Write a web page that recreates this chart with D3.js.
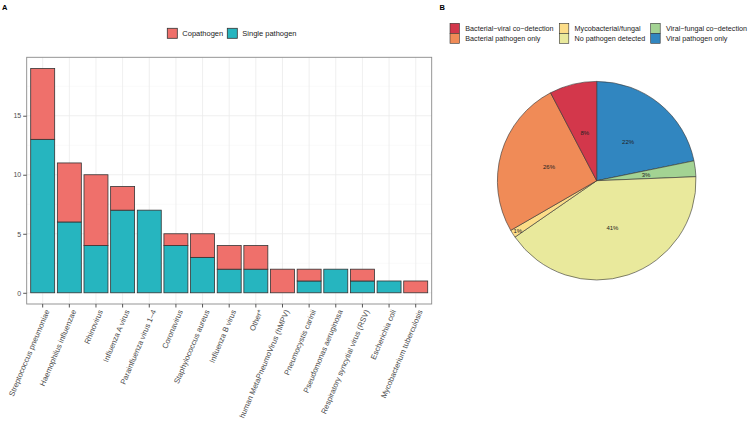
<!DOCTYPE html>
<html>
<head>
<meta charset="utf-8">
<script src="https://cdn.jsdelivr.net/npm/d3@7"></script>
<style>
  body { margin: 0; background: #fff; }
  svg { font-family: "Liberation Sans", Arial, sans-serif; }
</style>
</head>
<body>
<svg id="chart" width="749" height="421"></svg>
<script>
// panel A data
const pathogens = [
  "Streptococcus pneumoniae", "Haemophilus influenzae", "Rhinovirus", "Influenza A virus",
  "Parainfluenza virus 1\u20134", "Coronavirus", "Staphylococcus aureus", "Influenza B virus",
  "Other*", "human MetaPneumoVirus (hMPV)", "Pneumocystis carinii", "Pseudomonas aeruginosa",
  "Respiratory syncytial virus (RSV)", "Escherichia coli", "Mycobacterium tuberculosis"
];
const single = [13, 6, 4, 7, 7, 4, 3, 2, 2, 0, 1, 2, 1, 1, 0];
const copathogen = [6, 5, 6, 2, 0, 1, 2, 2, 2, 2, 1, 0, 1, 0, 1];
const yTicks = [0, 5, 10, 15];

// panel B data (counts, drawn clockwise from 12 o'clock)
const groups = ["Viral pathogen only", "Viral\u2212fungal co\u2212detection", "No pathogen detected",
  "Mycobacterial/fungal", "Bacterial pathogen only", "Bacterial\u2212viral co\u2212detection"];
const groupCounts = [17, 2, 32, 1, 20, 6];
const legendOrder = ["Bacterial\u2212viral co\u2212detection", "Bacterial pathogen only",
  "Mycobacterial/fungal", "No pathogen detected",
  "Viral\u2212fungal co\u2212detection", "Viral pathogen only"];

const svg = d3.select('#chart');

// ---------- panel A ----------
const a = { left: 26.7, right: 431.7, top: 57.3, bottom: 304 };
const cols = { co: "#EF706B", single: "#26B5BF" };

const x = d3.scaleBand().domain(pathogens).range([a.left, a.right])
  .paddingInner(0.1).paddingOuter(0.15);
const y = d3.scaleLinear().domain([-0.95, 19.95]).range([a.bottom, a.top]);

const gA = svg.append('g');
// grid
[2.5, 7.5, 12.5, 17.5].forEach(v => {
  gA.append('line').attr('x1', a.left).attr('x2', a.right).attr('y1', y(v)).attr('y2', y(v))
    .attr('stroke', '#F2F2F2').attr('stroke-width', 0.5);
});
yTicks.forEach(v => {
  gA.append('line').attr('x1', a.left).attr('x2', a.right).attr('y1', y(v)).attr('y2', y(v))
    .attr('stroke', '#EBEBEB').attr('stroke-width', 0.8);
});
pathogens.forEach(p => {
  const cx = x(p) + x.bandwidth() / 2;
  gA.append('line').attr('x1', cx).attr('x2', cx).attr('y1', a.top).attr('y2', a.bottom)
    .attr('stroke', '#EBEBEB').attr('stroke-width', 0.8);
});

const barData = pathogens.map((p, i) => ({ name: p, single: single[i], co: copathogen[i] }));
const stack = d3.stack().keys(["single", "co"])(barData);
gA.selectAll('g.layer').data(stack).enter().append('g')
  .attr('fill', d => cols[d.key])
  .selectAll('rect').data(d => d.filter(s => s[1] > s[0])).enter().append('rect')
  .attr('x', d => x(d.data.name))
  .attr('width', x.bandwidth())
  .attr('y', d => y(d[1]))
  .attr('height', d => y(d[0]) - y(d[1]))
  .attr('stroke', '#333').attr('stroke-width', 0.8);

// panel border
gA.append('rect').attr('x', a.left).attr('y', a.top)
  .attr('width', a.right - a.left).attr('height', a.bottom - a.top)
  .attr('fill', 'none').attr('stroke', '#8a8a8a').attr('stroke-width', 0.9);

// y axis
const yAxis = gA.append('g').attr('transform', `translate(${a.left},0)`)
  .call(d3.axisLeft(y).tickValues(yTicks).tickSize(3.5).tickPadding(2));
yAxis.select('.domain').remove();
yAxis.selectAll('line').attr('stroke', '#555');
yAxis.selectAll('text').attr('fill', '#4D4D4D').style('font-size', '7px');

// x axis
const xAxis = gA.append('g').attr('transform', `translate(0,${a.bottom})`)
  .call(d3.axisBottom(x).tickSize(3.5));
xAxis.select('.domain').remove();
xAxis.selectAll('line').attr('stroke', '#555');
xAxis.selectAll('text')
  .attr('fill', '#4D4D4D').style('font-size', '7.7px')
  .attr('text-anchor', 'end')
  .attr('x', 0).attr('y', 0).attr('dy', '0.72em')
  .attr('transform', 'translate(2,5) rotate(-67)');

// legend A
const legA = [{ k: "co", t: "Copathogen", x: 167.3 }, { k: "single", t: "Single pathogen", x: 227.3 }];
legA.forEach(l => {
  gA.append('rect').attr('x', l.x).attr('y', 28.3).attr('width', 10).attr('height', 10)
    .attr('fill', cols[l.k]).attr('stroke', '#333').attr('stroke-width', 0.8);
  gA.append('text').attr('x', l.x + 15).attr('y', 36).text(l.t)
    .style('font-size', '7.5px').attr('fill', '#222');
});

// panel tags
svg.append('text').attr('x', 2).attr('y', 10).text('A').style('font-size', '7.5px').style('font-weight', 'bold');
svg.append('text').attr('x', 439.5).attr('y', 10).text('B').style('font-size', '7.5px').style('font-weight', 'bold');

// ---------- panel B ----------
const pieColor = d3.scaleOrdinal().domain(legendOrder)
  .range(["#D3374B", "#F08B57", "#FCDD88", "#E9E99C", "#A3D393", "#3186C0"]);
const cx = 596.7, cy = 180.7, R = 99.3;
const pie = d3.pie().sort(null).value(d => d.v);
const arcs = pie(groups.map((g, i) => ({ g: g, v: groupCounts[i] })));
const arc = d3.arc().innerRadius(0).outerRadius(R);
const labelArc = d3.arc().innerRadius(R * 0.5).outerRadius(R * 0.5);
// tiny slices get their label near the rim
const rimArc = d3.arc().innerRadius(R * 0.94).outerRadius(R * 0.94);
const total = d3.sum(groupCounts);
const gB = svg.append('g').attr('transform', `translate(${cx},${cy})`);
gB.selectAll('path').data(arcs).enter().append('path')
  .attr('d', arc).attr('fill', d => pieColor(d.data.g))
  .attr('stroke', '#333').attr('stroke-width', 0.6);
gB.selectAll('text').data(arcs).enter().append('text')
  .attr('transform', d => `translate(${(d.data.v / total < 0.02 ? rimArc : labelArc).centroid(d)})`)
  .attr('text-anchor', 'middle').attr('dy', '0.35em')
  .style('font-size', '6px').attr('fill', '#222')
  .text(d => Math.round(d.data.v / total * 100) + '%');

// legend B: 3 columns x 2 rows
const legX = [450, 559.3, 650.7];
legendOrder.forEach((g, i) => {
  const col = Math.floor(i / 2), row = i % 2;
  const lx = legX[col], ly = 23.3 + row * 10;
  svg.append('rect').attr('x', lx).attr('y', ly).attr('width', 9.5).attr('height', 10)
    .attr('fill', pieColor(g)).attr('stroke', '#333').attr('stroke-width', 0.6);
  svg.append('text').attr('x', lx + 15.3).attr('y', ly + 7.8).text(g)
    .style('font-size', '7.2px').attr('fill', '#222');
});
</script>
</body>
</html>
